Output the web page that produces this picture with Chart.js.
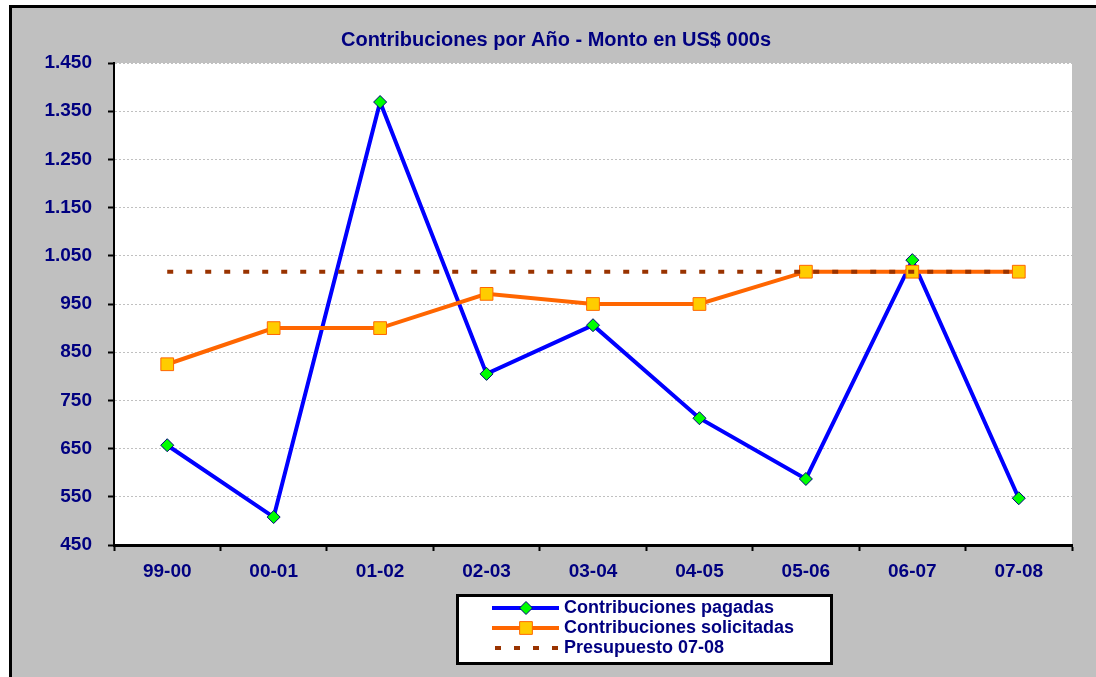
<!DOCTYPE html>
<html>
<head>
<meta charset="utf-8">
<script src="https://cdn.jsdelivr.net/npm/chart.js@4.4.0/dist/chart.umd.min.js"></script>
<style>
  html, body { margin: 0; padding: 0; background: #ffffff; }
  #wrap { width: 1096px; height: 677px; }
</style>
</head>
<body>
<div id="wrap"><canvas id="chart" width="1096" height="677"></canvas></div>
<script>
const years = ['99-00', '00-01', '01-02', '02-03', '03-04', '04-05', '05-06', '06-07', '07-08'];
const pagadas = [657, 508, 1369, 805, 906, 713, 587, 1041, 547];
const solicitadas = [825, 900, 900, 971, 950, 950, 1017, 1017, 1017];
const presupuesto = [1017, 1017, 1017, 1017, 1017, 1017, 1017, 1017, 1017];

const navy = '#000080';
const family = 'Arial, "Liberation Sans", sans-serif';
const tickFont = { family: family, size: 19, weight: 'bold' };

// gray frame + white plot area
const framePlugin = {
    id: 'frame',
    beforeDraw(chart) {
        const ctx = chart.ctx;
        const a = chart.chartArea;
        ctx.save();
        ctx.fillStyle = '#ffffff';
        ctx.fillRect(0, 0, chart.width, chart.height);
        ctx.fillStyle = '#c0c0c0';
        ctx.fillRect(9, 5, chart.width, chart.height);
        ctx.strokeStyle = '#000000';
        ctx.lineWidth = 3;
        ctx.beginPath();
        ctx.moveTo(10.5, chart.height + 5);
        ctx.lineTo(10.5, 6.5);
        ctx.lineTo(chart.width + 5, 6.5);
        ctx.stroke();
        ctx.fillStyle = '#ffffff';
        ctx.fillRect(a.left, a.top, a.right - a.left, a.bottom - a.top);
        ctx.restore();
    }
};

// boxed legend, one row per dataset
const legendPlugin = {
    id: 'boxLegend',
    afterDraw(chart) {
        const ctx = chart.ctx;
        ctx.save();
        ctx.fillStyle = '#ffffff';
        ctx.fillRect(457, 595, 375, 69);
        ctx.strokeStyle = '#000000';
        ctx.lineWidth = 3;
        ctx.strokeRect(457.5, 595.5, 374, 68);

        chart.data.datasets.forEach((ds, i) => {
            const y = 608 + i * 20;
            ctx.strokeStyle = ds.borderColor;
            ctx.lineWidth = ds.borderWidth;
            ctx.setLineDash(ds.borderDash || []);
            ctx.lineCap = 'butt';
            ctx.beginPath();
            ctx.moveTo(ds.borderDash ? 495 : 492, y);
            ctx.lineTo(559, y);
            ctx.stroke();
            ctx.setLineDash([]);

            if (ds.pointRadius > 0) {
                ctx.fillStyle = ds.pointBackgroundColor;
                ctx.strokeStyle = ds.pointBorderColor;
                ctx.lineWidth = 1;
                ctx.beginPath();
                if (ds.pointStyle === 'rectRot') {
                    const r = ds.pointRadius;
                    ctx.moveTo(526, y - r);
                    ctx.lineTo(526 + r, y);
                    ctx.lineTo(526, y + r);
                    ctx.lineTo(526 - r, y);
                    ctx.closePath();
                } else {
                    const s = ds.pointRadius * Math.SQRT1_2;
                    ctx.rect(526 - s, y - s, 2 * s, 2 * s);
                }
                ctx.fill();
                ctx.stroke();
            }

            ctx.fillStyle = navy;
            ctx.font = 'bold 18px ' + family;
            ctx.textAlign = 'left';
            ctx.textBaseline = 'middle';
            ctx.fillText(ds.label, 564, y);
        });
        ctx.restore();
    }
};

new Chart(document.getElementById('chart'), {
    type: 'line',
    data: {
        labels: years,
        datasets: [{
            label: 'Contribuciones pagadas',
            data: pagadas,
            borderColor: '#0000ff',
            borderWidth: 4,
            tension: 0,
            pointStyle: 'rectRot',
            pointRadius: 6.5,
            pointBackgroundColor: '#00ff00',
            pointBorderColor: '#000080',
            pointBorderWidth: 1,
            order: 3
        }, {
            label: 'Contribuciones solicitadas',
            data: solicitadas,
            borderColor: '#ff6600',
            borderWidth: 4,
            tension: 0,
            pointStyle: 'rect',
            pointRadius: 9,
            pointBackgroundColor: '#ffcc00',
            pointBorderColor: '#ff6600',
            pointBorderWidth: 1,
            order: 2
        }, {
            label: 'Presupuesto 07-08',
            data: presupuesto,
            borderColor: '#993300',
            borderWidth: 4,
            borderDash: [6, 13],
            borderCapStyle: 'butt',
            tension: 0,
            pointRadius: 0,
            order: 1
        }]
    },
    options: {
        responsive: false,
        animation: false,
        layout: { padding: { left: 40, right: 24, top: 0, bottom: 0 } },
        plugins: {
            legend: { display: false },
            tooltip: { enabled: false },
            title: {
                display: true,
                text: 'Contribuciones por Año - Monto en US$ 000s',
                color: navy,
                font: { family: family, size: 20, weight: 'bold' },
                padding: { top: 28, bottom: 11 }
            }
        },
        scales: {
            x: {
                offset: true,
                grid: {
                    offset: true,
                    drawOnChartArea: false,
                    drawTicks: true,
                    tickLength: 6,
                    tickColor: '#000000',
                    tickWidth: 2
                },
                border: { display: true, color: '#000000', width: 3 },
                ticks: { color: navy, font: tickFont, padding: 9, maxRotation: 0 },
                afterFit(scale) { scale.height = 132; }
            },
            y: {
                min: 450,
                max: 1450,
                grid: {
                    color: '#c0c0c0',
                    lineWidth: 1,
                    tickLength: 6,
                    tickColor: '#000000',
                    tickWidth: 2
                },
                border: { display: true, color: '#000000', width: 2, dash: [2, 2] },
                ticks: {
                    stepSize: 100,
                    color: navy,
                    font: tickFont,
                    padding: 16,
                    callback: v => String(v).replace(/\B(?=(\d{3})+(?!\d))/g, '.')
                },
                afterFit(scale) { scale.width = 74; }
            }
        }
    },
    plugins: [framePlugin, legendPlugin]
});
</script>
</body>
</html>
